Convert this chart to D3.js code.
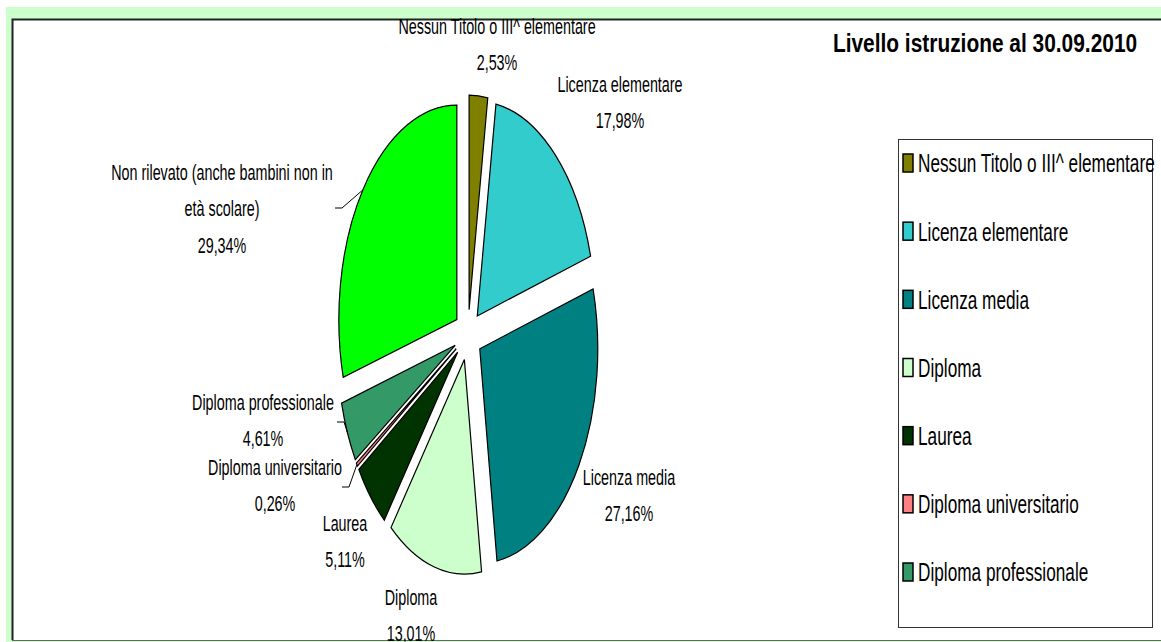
<!DOCTYPE html>
<html lang="it">
<head>
<meta charset="utf-8">
<title>Livello istruzione al 30.09.2010</title>
<script src="https://cdn.jsdelivr.net/npm/d3@7"></script>
<style>
  body { margin: 0; background: #fff; }
  text { font-family: "Liberation Sans", Arial, sans-serif; fill: #000; }
</style>
</head>
<body>
<script>
// data
var categories = ["Nessun Titolo o III^ elementare", "Licenza elementare", "Licenza media",
  "Diploma", "Laurea", "Diploma universitario", "Diploma professionale",
  "Non rilevato (anche bambini non in età scolare)"];
var values = [2.53, 17.98, 27.16, 13.01, 5.11, 0.26, 4.61, 29.34];
var colors = ["#808000", "#33CCCC", "#008080", "#CCFFCC", "#003300", "#FF8080", "#339966", "#00FF00"];
var legendCount = 7; // the last category is not in the legend

var W = 1161, H = 642;
var cx = 468, cy = 335, R = 118, k = 1.818, explode = 14;
var squeeze = 0.82, stretch = 1.25; // narrow, tall text like the picture

var svg = d3.select("body").append("svg").attr("width", W).attr("height", H);

// frame
svg.append("rect").attr("x", 6).attr("y", 7).attr("width", W).attr("height", H).attr("fill", "#CCFFCC");
svg.append("rect").attr("x", 12).attr("y", 19).attr("width", W).attr("height", 621).attr("fill", "#fff");
svg.append("path").attr("d", "M12.5,640 V19.5 H" + W).attr("fill", "none").attr("stroke", "#222").attr("stroke-width", 2);
svg.append("line").attr("x1", 12).attr("x2", W).attr("y1", 640.5).attr("y2", 640.5).attr("stroke", "#666").attr("stroke-width", 1);

// pie
var pie = d3.pie().sort(null).value(function(d) { return d; });
var arcs = pie(values);
var arc = d3.arc().innerRadius(0).outerRadius(R);

var pieG = svg.append("g").attr("transform", "translate(" + cx + "," + cy + ") scale(1," + k + ")");

function mid(d) { return (d.startAngle + d.endAngle) / 2; }

pieG.selectAll("path.slice")
  .data(arcs)
  .enter()
  .append("path")
  .attr("class", "slice")
  .attr("transform", function(d) {
    var a = mid(d);
    return "translate(" + (Math.sin(a) * explode) + "," + (-Math.cos(a) * explode) + ")";
  })
  .attr("d", arc)
  .attr("fill", function(d, i) { return colors[i]; })
  .attr("stroke", "#000")
  .attr("stroke-width", 1.2)
  .attr("vector-effect", "non-scaling-stroke");

// point on the outer arc of a slice, in page coordinates
function arcPoint(d) {
  var a = mid(d);
  return [cx + Math.sin(a) * (explode + R), cy - Math.cos(a) * (explode + R) * k];
}

function pct(v) { return v.toFixed(2).replace(".", ",") + "%"; }

// label layout (manual, as in the original)
var labelLines = [
  ["Nessun Titolo o III^ elementare"],
  ["Licenza elementare"],
  ["Licenza media"],
  ["Diploma"],
  ["Laurea"],
  ["Diploma universitario"],
  ["Diploma professionale"],
  ["Non rilevato (anche bambini non in", "età scolare)"]
];
var labelPos = [[497, 26], [620, 84], [629, 477], [411, 597], [345, 523], [275, 467], [263, 402], [222, 172]];
var leaders = { 5: [342, 487], 6: [337, 422], 7: [335, 208] };
var lineGap = 36.5, labelSize = 17.5;

function narrowText(g, x, y, str, size, weight, anchor, sy) {
  g.append("text")
    .attr("transform", "translate(" + x + "," + y + ") scale(" + squeeze + "," + sy + ")")
    .attr("dy", "0.36em")
    .attr("text-anchor", anchor || "middle")
    .attr("font-size", size)
    .attr("font-weight", weight || "normal")
    .text(str);
}

var labelG = svg.append("g");
arcs.forEach(function(d, i) {
  var p = labelPos[i];
  var lines = labelLines[i].concat([pct(values[i])]);
  lines.forEach(function(s, j) {
    narrowText(labelG, p[0], p[1] + j * lineGap, s, labelSize, "normal", "middle", stretch);
  });
  if (leaders[i]) {
    var s = leaders[i], e = arcPoint(d);
    labelG.append("polyline")
      .attr("points", [s, [s[0] + 7, s[1]], e].map(function(q) { return q.join(","); }).join(" "))
      .attr("fill", "none").attr("stroke", "#000").attr("stroke-width", 1);
  }
});

// title
narrowText(svg, 985, 43, "Livello istruzione al 30.09.2010", 25.5, "bold", "middle", 1);

// legend
var lg = svg.append("g");
lg.append("rect").attr("x", 898.5).attr("y", 139.5).attr("width", 254).attr("height", 488)
  .attr("fill", "#fff").attr("stroke", "#333").attr("stroke-width", 1);
var legendY = d3.scalePoint().domain(d3.range(legendCount)).range([163, 572]);
d3.range(legendCount).forEach(function(i) {
  var y = legendY(i);
  lg.append("rect").attr("x", 903).attr("y", y - 9).attr("width", 10).attr("height", 18)
    .attr("fill", colors[i]).attr("stroke", "#000").attr("stroke-width", 1.5);
  narrowText(lg, 918, y, categories[i], 21, "normal", "start", stretch);
});
</script>
</body>
</html>
